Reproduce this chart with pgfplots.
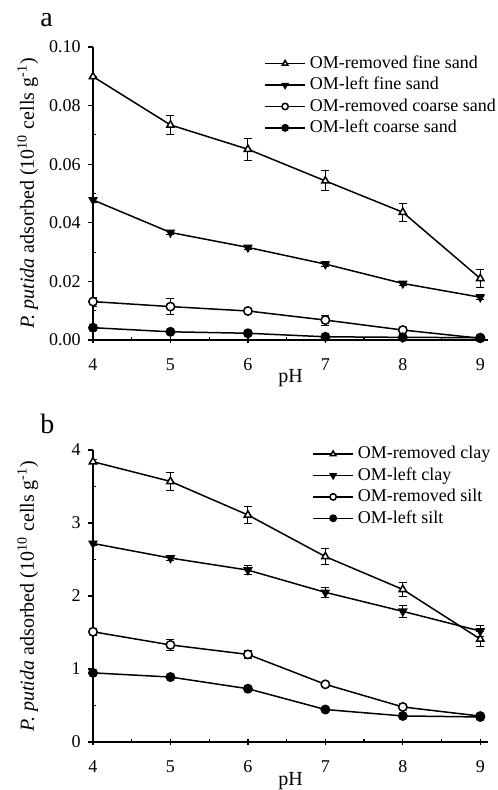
\documentclass[border=0pt]{standalone}
\usepackage{fontspec}
\setmainfont{Liberation Serif}
\usepackage{pgfplots}
\pgfplotsset{compat=1.18}
\usepackage{pgfplotstable}

% panel a: OM-removed / OM-left, fine / coarse sand
\pgfplotstableread{
x y e
4 0.0899 0.0000
5 0.0734 0.0033
6 0.0651 0.0037
7 0.0543 0.0034
8 0.0436 0.0030
9 0.0210 0.0030
}\aRF
\pgfplotstableread{
x y e
4 0.0478 0.0008
5 0.0367 0.0008
6 0.0316 0.0008
7 0.0259 0.0008
8 0.0193 0.0008
9 0.0146 0.0008
}\aLF
\pgfplotstableread{
x y e
4 0.0131 0.0015
5 0.0114 0.0028
6 0.0099 0.0006
7 0.0068 0.0017
8 0.0034 0.0006
9 0.0006 0.0005
}\aRC
\pgfplotstableread{
x y e
4 0.0042 0.0004
5 0.0028 0.0004
6 0.0023 0.0004
7 0.0011 0.0004
8 0.0009 0.0004
9 0.0008 0.0004
}\aLC
% panel b: clay / silt
\pgfplotstableread{
x y e
4 3.84 0.03
5 3.57 0.125
6 3.11 0.12
7 2.54 0.11
8 2.09 0.10
9 1.41 0.10
}\bRC
\pgfplotstableread{
x y e
4 2.72 0.03
5 2.52 0.04
6 2.355 0.06
7 2.05 0.07
8 1.79 0.08
9 1.52 0.07
}\bLC
\pgfplotstableread{
x y e
4 1.51 0.05
5 1.33 0.07
6 1.20 0.06
7 0.79 0.03
8 0.48 0.03
9 0.355 0.03
}\bRS
\pgfplotstableread{
x y e
4 0.947 0.02
5 0.89 0.02
6 0.73 0.02
7 0.445 0.02
8 0.357 0.02
9 0.343 0.02
}\bLS

\newcommand{\fs}{\fontsize{9}{11}\selectfont}
\pgfplotsset{
  panel/.style={
    scale only axis, width=197.5pt, anchor=south west,
    xmin=4, xmax=9.1, xtick={4,...,9}, minor x tick num=1, minor y tick num=1,
    axis x line=bottom, axis y line=left, axis line style={-, line width=0.7pt},
    tick style={black, line width=0.6pt},
    xtick align=center, ytick align=outside,
    major tick length=2.6pt, minor tick length=1.6pt,
    minor x tick style={yshift=0.8pt}, minor y tick style={xshift=1.6pt},
    /pgf/number format/assume math mode=true,
    tick label style={font=\fs},
    xticklabel style={anchor=north, yshift=-4.5pt},
    label style={font=\fs},
    xlabel={pH},
    ylabel={\textit{P. putida} adsorbed (10\textsuperscript{10} cells g\textsuperscript{-1})},
    legend cell align=left,
    legend style={draw=none, fill=none, font=\fs, anchor=north west, row sep=2.9pt,
      nodes={inner xsep=2pt, inner ysep=0pt}},
    legend image code/.code={%
      \draw[mark repeat=2, mark phase=2, mark size=1.6pt] plot coordinates {(0pt,0pt) (10pt,0pt) (20pt,0pt)};},
    every axis plot/.append style={black, line width=0.75pt, mark size=2.1pt},
    error bars/y dir=both, error bars/y explicit,
    error bars/error bar style={line width=0.5pt},
    error bars/error mark options={rotate=90, mark size=2pt, line width=0.5pt},
  },
  sRem/.style={mark=triangle*, mark options={fill=white, solid}},
  sLeft/.style={mark=triangle*, mark options={rotate=180, fill=black, solid}},
  cRem/.style={mark=*, mark options={fill=white, solid}},
  cLeft/.style={mark=*, mark options={fill=black, solid}},
}

\begin{document}
\begin{tikzpicture}
\useasboundingbox (0,0) rectangle (248.5pt,-395pt);
\node[anchor=base west, font=\fontsize{14}{16}\selectfont, inner sep=0pt] at (20pt,-13.5pt) {a};
\node[anchor=base west, font=\fontsize{14}{16}\selectfont, inner sep=0pt] at (20pt,-216.5pt) {b};

\begin{axis}[panel, at={(46.5pt,-170pt)}, height=146.5pt,
    ymin=0, ymax=0.1, ytick={0,0.02,...,0.1},
    yticklabel style={/pgf/number format/fixed, /pgf/number format/fixed zerofill, /pgf/number format/precision=2},
    every axis x label/.style={at={(axis description cs:0.5,-0.145)}, anchor=base},
    every axis y label/.style={at={(axis description cs:-0.165,0.5)}, anchor=center, rotate=90},
    legend style={at={(axis cs:6.13,0.0985)}}]
  \addplot[sRem] table[x=x, y=y, y error=e] {\aRF};
  \addlegendentry{OM-removed fine sand}
  \addplot[sLeft] table[x=x, y=y, y error=e] {\aLF};
  \addlegendentry{OM-left fine sand}
  \addplot[cRem] table[x=x, y=y, y error=e] {\aRC};
  \addlegendentry{OM-removed coarse sand}
  \addplot[cLeft] table[x=x, y=y, y error=e] {\aLC};
  \addlegendentry{OM-left coarse sand}
\end{axis}

\begin{axis}[panel, at={(46.5pt,-371pt)}, height=146pt,
    ymin=0, ymax=4, ytick={0,1,2,3,4},
    every axis x label/.style={at={(axis description cs:0.5,-0.15)}, anchor=base},
    every axis y label/.style={at={(axis description cs:-0.165,0.5)}, anchor=center, rotate=90},
    legend style={at={(axis cs:6.75,4.11)}}]
  \addplot[sRem] table[x=x, y=y, y error=e] {\bRC};
  \addlegendentry{OM-removed clay}
  \addplot[sLeft] table[x=x, y=y, y error=e] {\bLC};
  \addlegendentry{OM-left clay}
  \addplot[cRem] table[x=x, y=y, y error=e] {\bRS};
  \addlegendentry{OM-removed silt}
  \addplot[cLeft] table[x=x, y=y, y error=e] {\bLS};
  \addlegendentry{OM-left silt}
\end{axis}
\end{tikzpicture}
\end{document}
